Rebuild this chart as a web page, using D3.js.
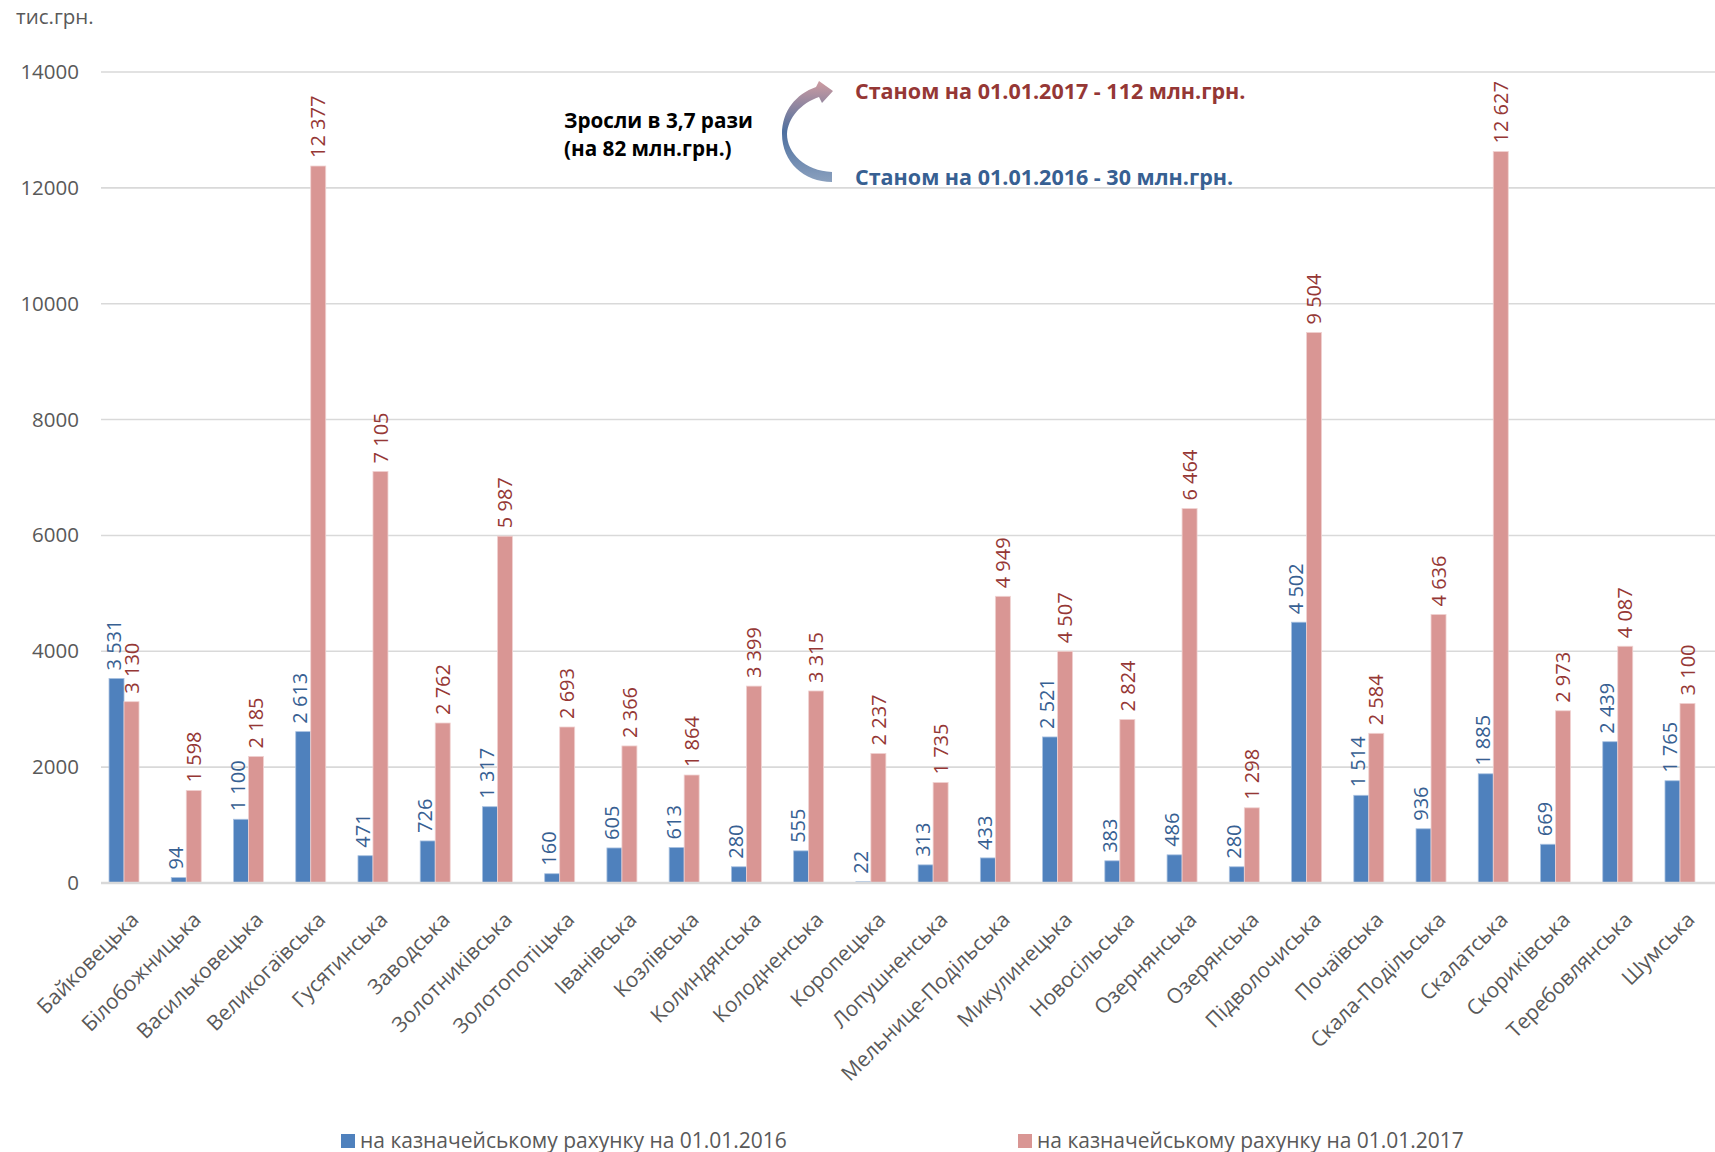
<!DOCTYPE html>
<html>
<head>
<meta charset="utf-8">
<script src="https://cdn.jsdelivr.net/npm/d3@7"></script>
<style>
  html, body { margin: 0; padding: 0; background: #fff; }
  svg { display: block; font-family: "Open Sans", "Noto Sans", sans-serif; }
</style>
</head>
<body>
<div id="chart"></div>
<script>
// ===== DATA =====
const communities = [
  "Байковецька", "Білобожницька", "Васильковецька", "Великогаївська", "Гусятинська",
  "Заводська", "Золотниківська", "Золотопотіцька", "Іванівська", "Козлівська",
  "Колиндянська", "Колодненська", "Коропецька", "Лопушненська", "Мельнице-Подільська",
  "Микулинецька", "Новосільська", "Озернянська", "Озерянська", "Підволочиська",
  "Почаївська", "Скала-Подільська", "Скалатська", "Скориківська", "Теребовлянська", "Шумська"
];

const values2016 = [
  3531, 94, 1100, 2613, 471, 726, 1317, 160, 605, 613, 280, 555, 22,
  313, 433, 2521, 383, 486, 280, 4502, 1514, 936, 1885, 669, 2439, 1765
];

// Микулинецька: the bar in the source is drawn at ~4000 while its label reads 4 507
const values2017 = [
  3130, 1598, 2185, 12377, 7105, 2762, 5987, 2693, 2366, 1864, 3399, 3315, 2237,
  1735, 4949, 4000, 2824, 6464, 1298, 9504, 2584, 4636, 12627, 2973, 4087, 3100
];
const printedLabels2017 = { "Микулинецька": "4 507" };

const yTicks = [0, 2000, 4000, 6000, 8000, 10000, 12000, 14000];

const seriesNames = [
  "на казначейському рахунку на 01.01.2016",
  "на казначейському рахунку на 01.01.2017"
];

const noteLines = ["Зросли в 3,7 рази", "(на 82 млн.грн.)"];
const note2017 = "Станом на 01.01.2017 - 112 млн.грн.";
const note2016 = "Станом на 01.01.2016 - 30 млн.грн.";

// ===== COLOURS =====
const BLUE = "#4f81bd";
const PINK = "#d99694";
const BLUE_TEXT = "#376092";
const RED_TEXT = "#953735";
const AXIS_TEXT = "#595959";
const GRID = "#d9d9d9";

// ===== SETUP =====
const width = 1715;
const height = 1152;

const svg = d3.select("#chart")
  .append("svg")
  .attr("width", width)
  .attr("height", height);

const y = d3.scaleLinear()
  .domain([0, 14000])
  .range([883, 72]);

const x = d3.scaleBand()
  .domain(communities)
  .range([92.9, 1711.1])
  .padding(0);

const barW = 15;
const center = d => x(d) + x.bandwidth() / 2;
const fmt = v => d3.format(",")(v).replace(/,/g, " ");

// ===== GRIDLINES & Y AXIS =====
const yAxis = d3.axisLeft(y)
  .tickValues(yTicks)
  .tickSize(0)
  .tickPadding(0)
  .tickFormat(d3.format("d"));

const yG = svg.append("g")
  .attr("transform", "translate(79,0)")
  .call(yAxis);
yG.select(".domain").remove();
yG.selectAll("text")
  .attr("font-size", 20.5)
  .attr("font-family", "'Open Sans', sans-serif")
  .attr("fill", AXIS_TEXT);

svg.append("g")
  .selectAll("line")
  .data(yTicks.filter(t => t > 0))
  .enter()
  .append("line")
  .attr("x1", 101)
  .attr("x2", width)
  .attr("y1", d => y(d))
  .attr("y2", d => y(d))
  .attr("stroke", GRID)
  .attr("stroke-width", 1.6);

// unit label
svg.append("text")
  .attr("x", 16)
  .attr("y", 24)
  .attr("font-size", 20.5)
  .attr("fill", AXIS_TEXT)
  .text("тис.грн.");

// ===== BARS =====
const groups = svg.append("g")
  .selectAll("g")
  .data(communities)
  .enter()
  .append("g");

groups.append("rect")
  .attr("x", d => center(d) - barW)
  .attr("y", (d, i) => y(values2016[i]))
  .attr("width", barW)
  .attr("height", (d, i) => y(0) - y(values2016[i]))
  .attr("fill", BLUE)
  .attr("stroke", "#a9c1e0")
  .attr("stroke-width", 0.8);

groups.append("rect")
  .attr("x", d => center(d))
  .attr("y", (d, i) => y(values2017[i]))
  .attr("width", barW)
  .attr("height", (d, i) => y(0) - y(values2017[i]))
  .attr("fill", PINK)
  .attr("stroke", "#f0d2d1")
  .attr("stroke-width", 0.8);

// baseline
svg.append("line")
  .attr("x1", 101)
  .attr("x2", width)
  .attr("y1", y(0))
  .attr("y2", y(0))
  .attr("stroke", GRID)
  .attr("stroke-width", 2.6);

// ===== DATA LABELS =====
groups.append("text")
  .attr("transform", (d, i) =>
    `translate(${center(d) - barW / 2 - 3},${y(values2016[i]) - 8}) rotate(-90)`)
  .attr("dy", "0.36em")
  .attr("font-size", 20)
  .attr("fill", BLUE_TEXT)
  .text((d, i) => fmt(values2016[i]));

groups.append("text")
  .attr("transform", (d, i) =>
    `translate(${center(d) + barW / 2},${y(values2017[i]) - 8}) rotate(-90)`)
  .attr("dy", "0.36em")
  .attr("font-size", 20)
  .attr("fill", RED_TEXT)
  .text((d, i) => printedLabels2017[d] || fmt(values2017[i]));

// ===== CATEGORY LABELS =====
groups.append("text")
  .attr("transform", d => `translate(${center(d) + 16},${921}) rotate(-45)`)
  .attr("text-anchor", "end")
  .attr("font-size", 21)
  .attr("fill", AXIS_TEXT)
  .text(d => d);

// ===== LEGEND =====
const legendItems = [
  { name: seriesNames[0], color: BLUE, x: 341 },
  { name: seriesNames[1], color: PINK, x: 1018 }
];

const legend = svg.append("g")
  .selectAll("g")
  .data(legendItems)
  .enter()
  .append("g")
  .attr("transform", d => `translate(${d.x},1134)`);

legend.append("rect")
  .attr("width", 14)
  .attr("height", 14)
  .attr("fill", d => d.color);

legend.append("text")
  .attr("x", 19)
  .attr("y", 13.5)
  .attr("font-size", 21)
  .attr("fill", AXIS_TEXT)
  .text(d => d.name);

// ===== ANNOTATION =====
const defs = svg.append("defs");
const grad = defs.append("linearGradient")
  .attr("id", "arrowGrad")
  .attr("x1", 0).attr("y1", 0)
  .attr("x2", 0).attr("y2", 1);
grad.append("stop").attr("offset", "0%").attr("stop-color", "#cf9ca1");
grad.append("stop").attr("offset", "50%").attr("stop-color", "#4d6f9f");
grad.append("stop").attr("offset", "100%").attr("stop-color", "#8aa0be");

svg.append("path")
  .attr("d",
    "M832,182 C804,182 782,162 782,134 " +
    "C782,111 796,94 816,87 L819,81 L833,91 L822,103 L819,97 " +
    "C801,103 788,118 787,134 " +
    "C787,153 805,171 832,172 Z")
  .attr("fill", "url(#arrowGrad)");

svg.append("g")
  .selectAll("text")
  .data(noteLines)
  .enter()
  .append("text")
  .attr("x", 564)
  .attr("y", (d, i) => 128 + i * 28)
  .attr("font-size", 20.7)
  .attr("font-weight", "bold")
  .attr("fill", "#000")
  .text(d => d);

svg.append("text")
  .attr("x", 855)
  .attr("y", 99)
  .attr("font-size", 21.5)
  .attr("font-weight", "bold")
  .attr("fill", RED_TEXT)
  .text(note2017);

svg.append("text")
  .attr("x", 855)
  .attr("y", 185)
  .attr("font-size", 21.5)
  .attr("font-weight", "bold")
  .attr("fill", BLUE_TEXT)
  .text(note2016);
</script>
</body>
</html>
